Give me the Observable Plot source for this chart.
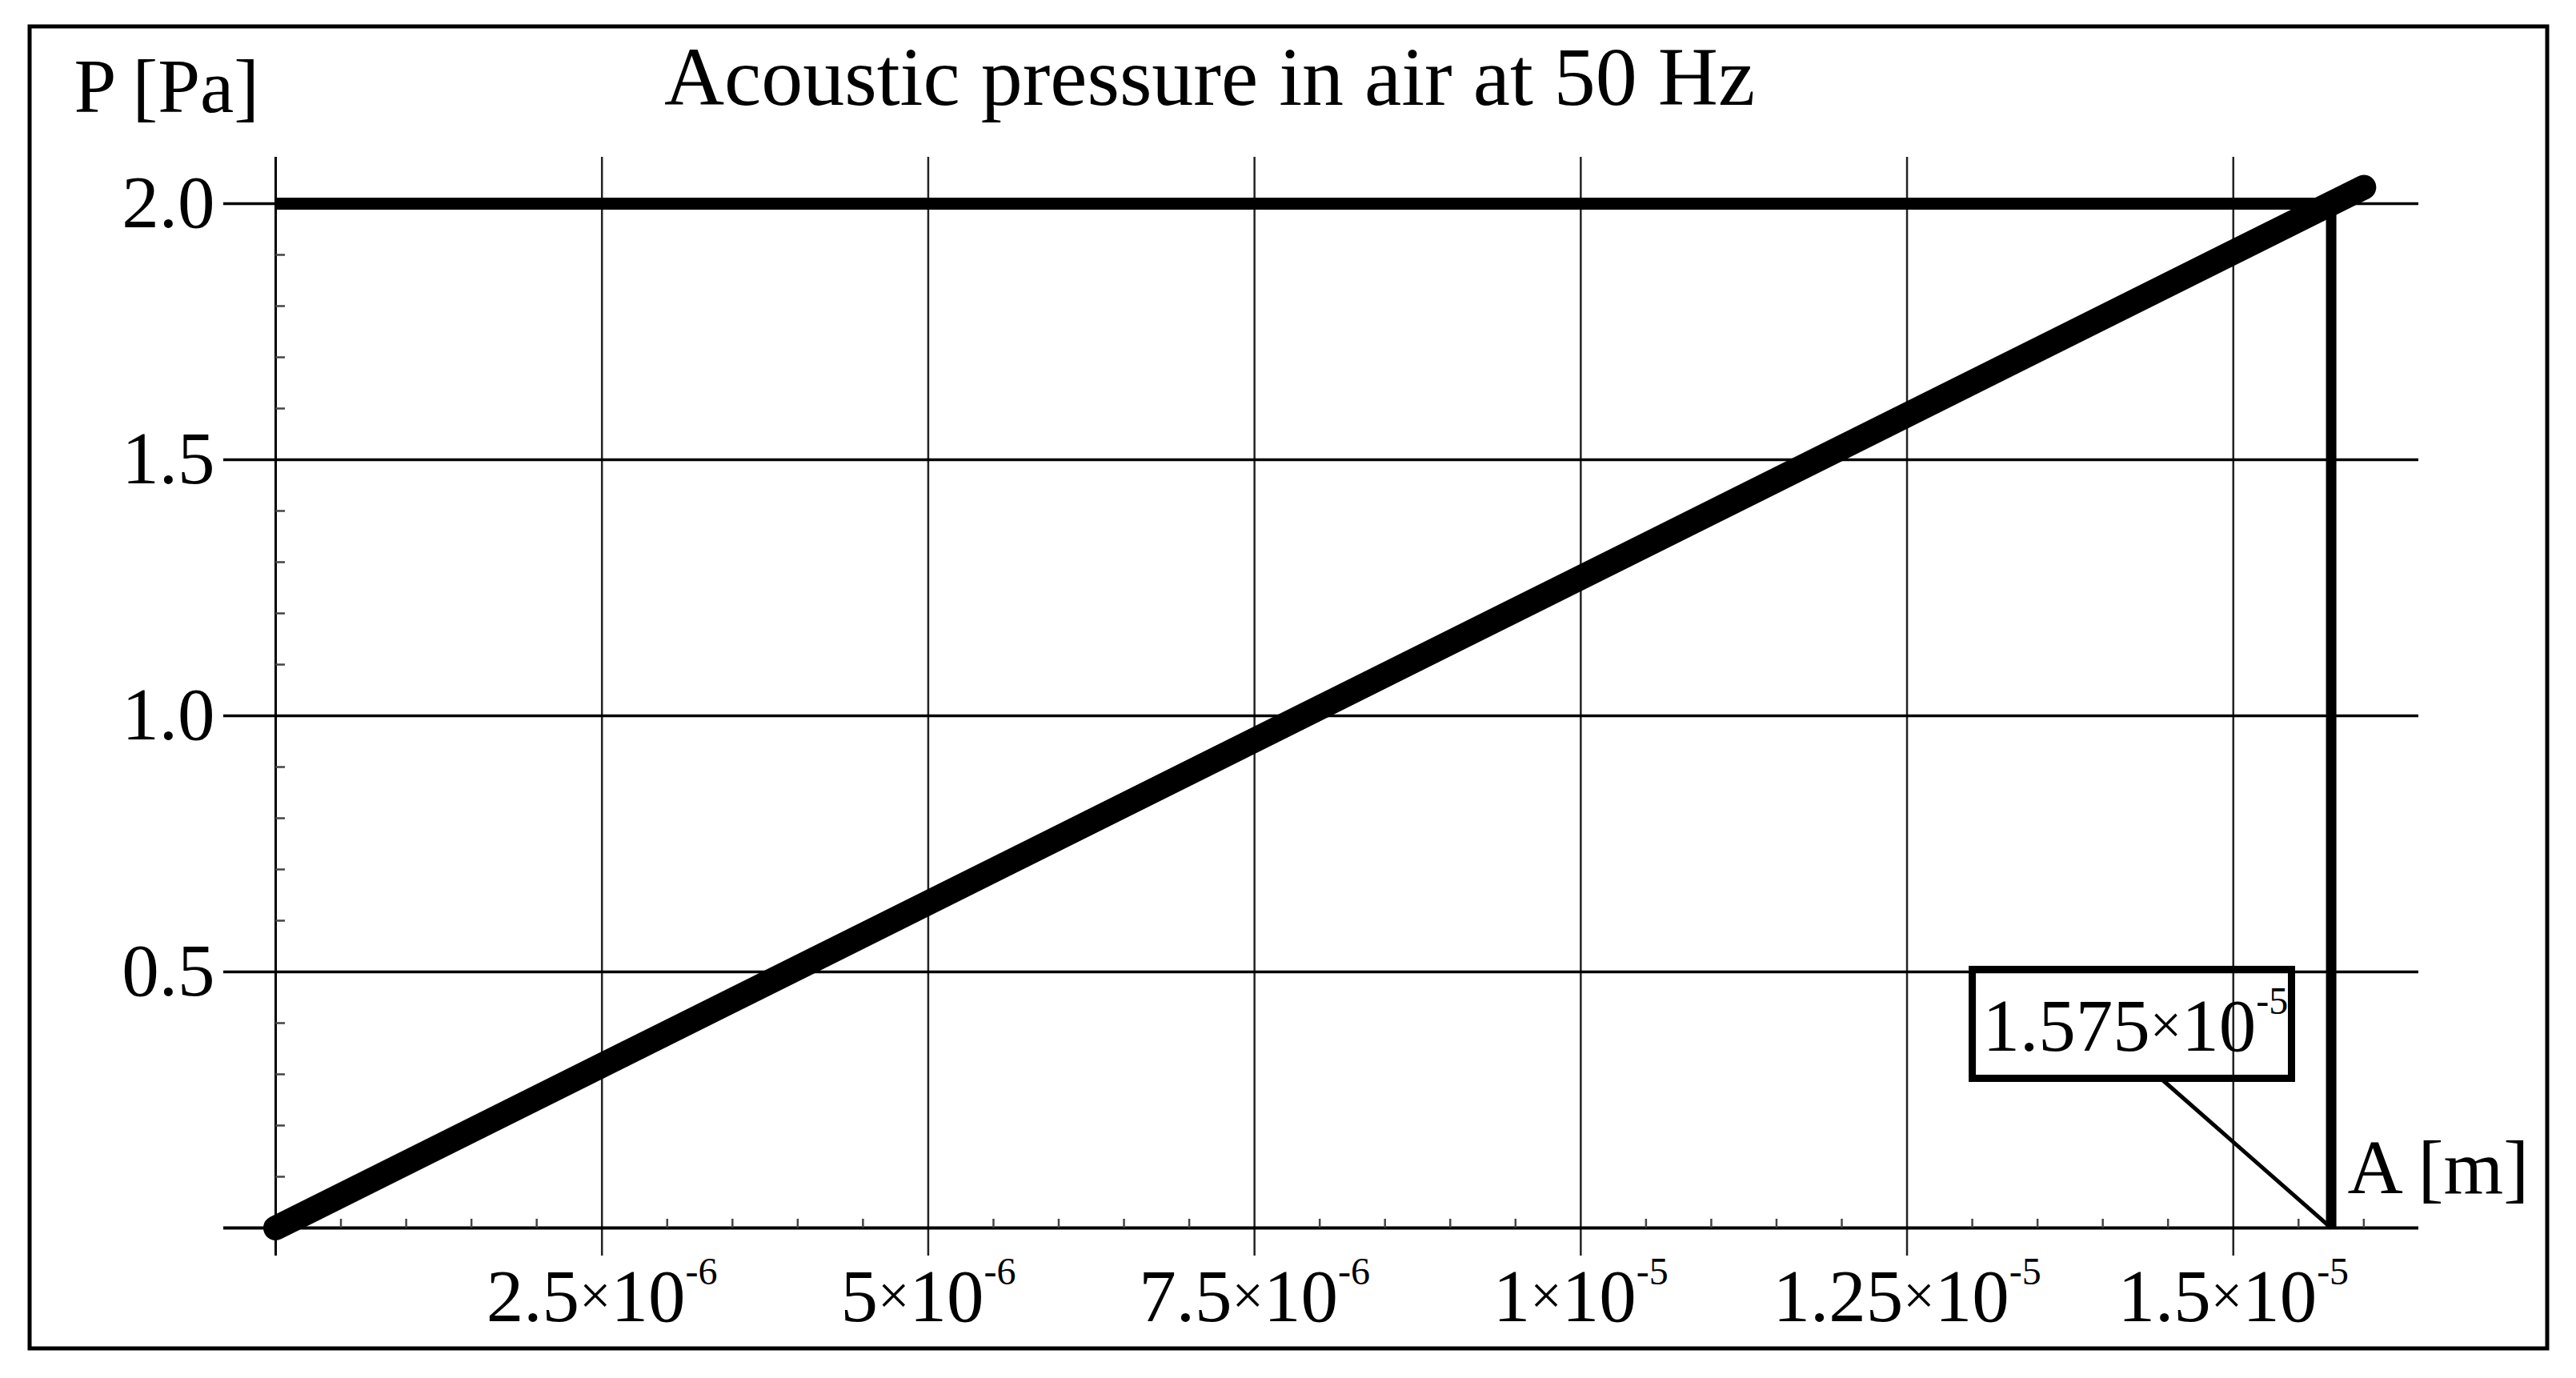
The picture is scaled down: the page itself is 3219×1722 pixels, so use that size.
<!DOCTYPE html>
<html><head><meta charset="utf-8">
<script src="https://cdn.jsdelivr.net/npm/d3@7"></script>
<script src="https://cdn.jsdelivr.net/npm/@observablehq/plot@0.6"></script>
<style>html,body{margin:0;padding:0;background:#fff;} svg{display:block;}</style>
</head><body><div id="chart"></div>
<script>
// ---- data ----
const titleText = "Acoustic pressure in air at 50 Hz";
const yLabelText = "P [Pa]";
const xLabelText = "A [m]";
const amplitude = [0, 1.6e-5];      // A [m]
const pressure = [0, 2.032];        // P [Pa]
const targetPressure = 2.0;
const markedAmplitude = 1.575e-5;
const xMajorTicks = [2.5e-6, 5e-6, 7.5e-6, 1e-5, 1.25e-5, 1.5e-5];
const xTickMantissa = ["2.5", "5", "7.5", "1", "1.25", "1.5"];
const xTickExponent = ["-6", "-6", "-6", "-5", "-5", "-5"];
const xMinorTicks = [5e-7, 1e-6, 1.5e-6, 2e-6, 3e-6, 3.5e-6, 4e-6, 4.5e-6, 5.5e-6, 6e-6, 6.5e-6, 7e-6,
  8e-6, 8.5e-6, 9e-6, 9.5e-6, 1.05e-5, 1.1e-5, 1.15e-5, 1.2e-5, 1.3e-5, 1.35e-5, 1.4e-5, 1.45e-5, 1.55e-5, 1.6e-5];
const yMajorTicks = [0.5, 1.0, 1.5, 2.0];
const yTickLabels = ["0.5", "1.0", "1.5", "2.0"];
const yMinorTicks = [0.1, 0.2, 0.3, 0.4, 0.6, 0.7, 0.8, 0.9, 1.1, 1.2, 1.3, 1.4, 1.6, 1.7, 1.8, 1.9];
const calloutBoxA = [1.3003e-5, 1.5449e-5];
const calloutBoxP = [0.2914, 0.504];
const calloutLeaderA = [1.4447e-5, 1.575e-5];
const calloutLeaderP = [0.2914, 0];
const calloutMantissa = "1.575";
const calloutExponent = "-5";
const xDomain = [0, 1.6421e-5];
const yDomain = [0, 2.0906];

const curve = amplitude.map((a, i) => ({a, p: pressure[i]}));
const FONT = "'Liberation Serif', 'Times New Roman', serif";

const chart = Plot.plot({
  width: 3219,
  height: 1722,
  marginLeft: 344,
  marginRight: 197,
  marginTop: 196,
  marginBottom: 188,
  x: {domain: xDomain, axis: null},
  y: {domain: yDomain, axis: null},
  style: {background: "white", fontFamily: FONT, color: "black"},
  marks: [
    // vertical grid lines (extend below axis as ticks)
    Plot.ruleX(xMajorTicks, {x: d => d, stroke: "#222", strokeWidth: 2.5, insetBottom: -35}),
    Plot.ruleX([0], {x: d => d, stroke: "black", strokeWidth: 3, insetBottom: -35}),
    // horizontal grid lines (extend left of axis as ticks)
    Plot.ruleY(yMajorTicks, {y: d => d, stroke: "black", strokeWidth: 3.5, insetLeft: -65}),
    Plot.ruleY([0], {y: d => d, stroke: "black", strokeWidth: 4, insetLeft: -65}),
    // minor ticks
    Plot.ruleX(xMinorTicks, {x: d => d, y1: 0, y2: 0, insetTop: -11, stroke: "#444", strokeWidth: 2.5}),
    Plot.ruleY(yMinorTicks, {y: d => d, x1: 0, x2: 0, insetRight: -12, stroke: "#444", strokeWidth: 2.5}),
    // callout
    Plot.rect([0], {x1: calloutBoxA[0], x2: calloutBoxA[1], y1: calloutBoxP[0], y2: calloutBoxP[1],
      fill: "none", stroke: "black", strokeWidth: 9}),
    Plot.link([0], {x1: calloutLeaderA[0], y1: calloutLeaderP[0], x2: calloutLeaderA[1], y2: calloutLeaderP[1],
      stroke: "black", strokeWidth: 5}),
    // target lines
    Plot.ruleY([targetPressure], {y: d => d, x1: 0, x2: markedAmplitude, stroke: "black", strokeWidth: 15}),
    Plot.ruleX([markedAmplitude], {x: d => d, y1: 0, y2: targetPressure, stroke: "black", strokeWidth: 13}),
    // main curve
    Plot.line(curve, {x: "a", y: "p", stroke: "black", strokeWidth: 31, strokeLinecap: "round"}),
    // tick labels
    Plot.text(yMajorTicks, {x: 0, y: d => d, text: (d, i) => yTickLabels[i], textAnchor: "end", dx: -76,
      fontSize: 93, fill: "black"}),
    Plot.text(xMajorTicks, {x: d => d, y: 0, text: (d, i) => xTickMantissa[i], textAnchor: "middle",
      lineAnchor: "bottom", dy: 116, fontSize: 93, fill: "black", ariaDescription: "x-sci-labels"}),
    Plot.text([0], {x: calloutBoxA[0], y: calloutBoxP[0], text: () => calloutMantissa, textAnchor: "start",
      lineAnchor: "bottom", dx: 12.5, dy: -35, fontSize: 93, fill: "black", ariaDescription: "callout-label"}),
    // title & axis labels
    Plot.text([titleText], {text: d => d, frameAnchor: "top-left", dx: 1167, dy: -66, lineAnchor: "bottom",
      textAnchor: "middle", fontSize: 104, fill: "black"}),
    Plot.text([yLabelText], {text: d => d, frameAnchor: "top-left", dx: -252, dy: -57, lineAnchor: "bottom",
      textAnchor: "start", fontSize: 95, fill: "black"}),
    Plot.text([xLabelText], {text: d => d, frameAnchor: "bottom-right", dx: -89, dy: -44, lineAnchor: "bottom",
      textAnchor: "start", fontSize: 96, fill: "black"}),
    // outer figure border
    Plot.frame({stroke: "black", strokeWidth: 5, insetLeft: -307.5, insetTop: -163.5, insetRight: -160.5, insetBottom: -150.5})
  ]
});
document.getElementById("chart").append(chart);

// scientific-notation labels: mantissa × 10^exp
const ns = "http://www.w3.org/2000/svg";
function sci(el, mant, exp) {
  el.textContent = "";
  el.appendChild(document.createTextNode(mant));
  const t = document.createElementNS(ns, "tspan");
  t.setAttribute("font-size", "70"); t.setAttribute("dy", "-9"); t.textContent = "×";
  el.appendChild(t);
  const ten = document.createElementNS(ns, "tspan");
  ten.setAttribute("dy", "9"); ten.textContent = "10";
  el.appendChild(ten);
  const sup = document.createElementNS(ns, "tspan");
  sup.setAttribute("font-size", "48"); sup.setAttribute("dy", "-46"); sup.textContent = exp;
  el.appendChild(sup);
}
let xTexts = chart.querySelectorAll('g[aria-description="x-sci-labels"] text');
let cTexts = chart.querySelectorAll('g[aria-description="callout-label"] text');
if (!xTexts.length) {
  const groups = chart.querySelectorAll('g[aria-label="text"]');
  xTexts = groups[1].querySelectorAll("text");
  cTexts = groups[2].querySelectorAll("text");
}
xTexts.forEach((el, i) => sci(el, xTickMantissa[i], xTickExponent[i]));
cTexts.forEach(el => sci(el, calloutMantissa, calloutExponent));
</script>
</body></html>
